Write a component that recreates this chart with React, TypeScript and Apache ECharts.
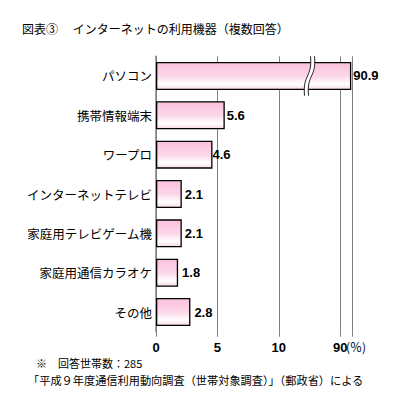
import React, { useEffect, useRef } from 'react';
import * as echarts from 'echarts';

const categories = ['パソコン', '携帯情報端末', 'ワープロ', 'インターネットテレビ', '家庭用テレビゲーム機', '家庭用通信カラオケ', 'その他'];
const values = [90.9, 5.6, 4.6, 2.1, 2.1, 1.8, 2.8];
const labelGaps = [2, 2, 0, 3, 3, 4, 4];
const tickValues = [0, 5, 10, 90];
const unitLabel = '(％)';
// axis break: real value 90 is drawn at axis position 15
const BREAK_REAL = 90;
const BREAK_POS = 15;
const BREAK_MARK_AT = 12.5;

const toAxis = (v: number) => (v >= BREAK_REAL ? v - (BREAK_REAL - BREAK_POS) : v);
const fromAxis = (p: number) => (p >= BREAK_POS ? p + (BREAK_REAL - BREAK_POS) : p);

const JP = '"Noto Sans CJK JP", "Noto Sans", sans-serif';
const NUM = '"Liberation Sans", Arial, sans-serif';

export default function App() {
  const ref = useRef<HTMLDivElement>(null);
  useEffect(() => {
    if (!ref.current) return;
    const chart = echarts.init(ref.current, null, { renderer: 'svg' });
    chart.setOption({
      animation: false,
      backgroundColor: '#ffffff',
      grid: { left: 156, right: 46.5, top: 56.3, bottom: 68.3 },
      graphic: [
        { type: 'text', left: 22, top: 22, style: { text: '図表③　 インターネットの利用機器（複数回答）', font: `12px ${JP}`, fill: '#000' } },
        { type: 'text', left: 346, top: 340, style: { text: unitLabel, font: `12px ${JP}`, fill: '#000' } },
        { type: 'text', left: 36, top: 357, style: { text: '※　回答世帯数：285', font: `11px ${JP}`, fill: '#000' } },
        { type: 'text', left: 28, top: 374, style: { text: '「平成９年度通信利用動向調査（世帯対象調査）」（郵政省）による', font: `11.2px ${JP}`, fill: '#000' } },
      ],
      xAxis: {
        type: 'value',
        min: 0,
        max: 16,
        interval: 5,
        axisLine: { show: false },
        axisTick: { show: true, length: 5, lineStyle: { color: '#808080', width: 1 } },
        splitLine: { show: true, lineStyle: { color: '#808080', width: 1 } },
        axisLabel: {
          margin: 9,
          color: '#000',
          fontFamily: NUM,
          fontWeight: 'bold',
          fontSize: 13,
          formatter: (v: number) => {
            const real = fromAxis(v);
            return tickValues.includes(real) ? `${real}` : '';
          },
        },
      },
      yAxis: {
        type: 'category',
        data: categories,
        inverse: true,
        axisLine: { show: true, lineStyle: { color: '#808080', width: 1.5 } },
        axisTick: { show: false },
        axisLabel: { margin: 4, color: '#000', fontFamily: JP, fontSize: 12.5 },
      },
      series: [
        {
          type: 'bar',
          barWidth: 28,
          data: values.map((v, i) => ({ value: toAxis(v), label: { distance: labelGaps[i] } })),
          itemStyle: {
            borderColor: '#000',
            borderWidth: 1.3,
            color: new echarts.graphic.LinearGradient(0, 0, 0, 1, [
              { offset: 0, color: '#fbc2dd' },
              { offset: 0.5, color: '#fcd6e8' },
              { offset: 0.8, color: '#ffffff' },
              { offset: 1, color: '#f7d8e6' },
            ]),
          },
          label: {
            show: true,
            position: 'right',
            color: '#000',
            fontFamily: NUM,
            fontWeight: 'bold',
            fontSize: 13,
            formatter: (p: any) => values[p.dataIndex].toFixed(1),
          },
          z: 2,
        },
        {
          type: 'custom',
          z: 5,
          encode: { x: 0, y: 1 },
          data: [[BREAK_MARK_AT, 0]],
          renderItem: (params: any, api: any) => {
            const c = api.coord([api.value(0), api.value(1)]);
            const band = api.size([0, 1])[1];
            const h = band / 2;
            const x = c[0];
            const y = c[1];
            const curve = (dx: number, stroke: string, lw: number) => ({
              type: 'bezierCurve',
              shape: {
                x1: x + dx + 3, y1: y - h,
                cpx1: x + dx + 5, cpy1: y + 2,
                cpx2: x + dx - 5, cpy2: y - 2,
                x2: x + dx - 3, y2: y + h,
              },
              style: { stroke, lineWidth: lw, fill: null },
            });
            return {
              type: 'group',
              children: [curve(0, '#ffffff', 3.5), curve(-2, '#222', 1), curve(2, '#222', 1)],
            };
          },
        },
      ],
    });
    return () => chart.dispose();
  }, []);
  return <div ref={ref} style={{ position: 'fixed', left: 0, top: 0, width: 399, height: 400 }} />;
}
